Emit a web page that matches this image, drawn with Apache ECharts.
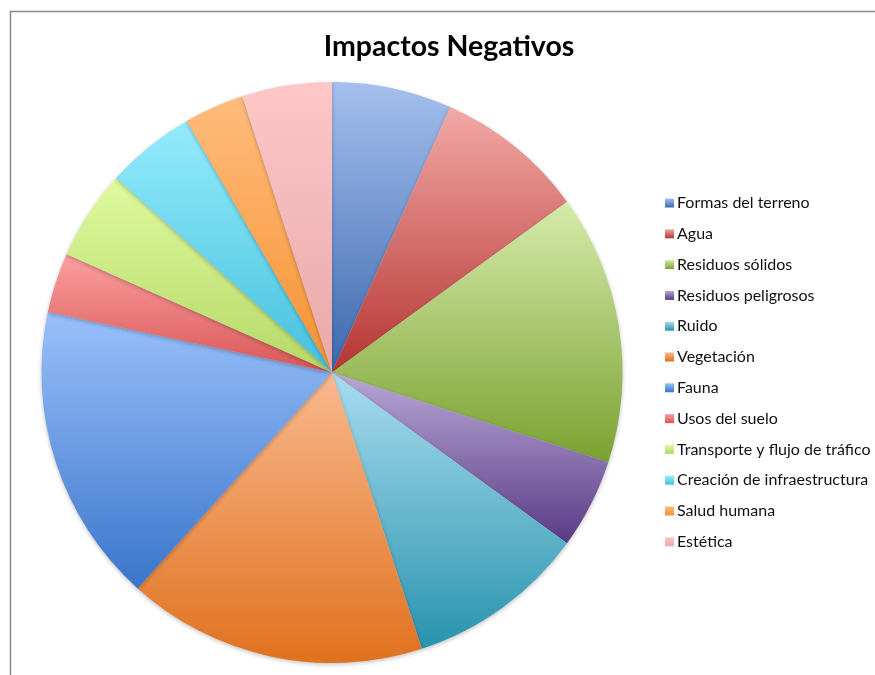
<!DOCTYPE html>
<html>
<head>
<meta charset="utf-8">
<script src="https://cdn.jsdelivr.net/npm/echarts@6/dist/echarts.min.js"></script>
<style>
  html, body { margin: 0; padding: 0; background: #fff; }
  #chart { width: 875px; height: 675px; }
</style>
</head>
<body>
<div id="chart"></div>
<script>
const categories = [
  'Formas del terreno', 'Agua', 'Residuos sólidos', 'Residuos peligrosos',
  'Ruido', 'Vegetación', 'Fauna', 'Usos del suelo',
  'Transporte y flujo de tráfico', 'Creación de infraestructura', 'Salud humana', 'Estética'
]
const values = [4, 5, 9, 3, 6, 10, 10, 2, 3, 3, 2, 3]
// gradient colours of each slice, light at top to dark at bottom
const topColors = ['#A5BFEE', '#F2A8A6', '#D5EBAA', '#B8A7D6', '#A9DCEF', '#F9B98F',
  '#99C0FA', '#FB9F9F', '#DFFA9F', '#94EBFC', '#FFBC7C', '#FFC7C8']
const bottomColors = ['#3C68AD', '#B53633', '#7AA130', '#5A3B86', '#2893AE', '#E0711D',
  '#3A75CB', '#D95656', '#B5D866', '#45C0DC', '#F79232', '#E7A8A9']

const myChart = echarts.init(document.getElementById('chart'))

const pieData = categories.map((name, i) => ({
  name: name,
  value: values[i],
  itemStyle: {
    color: new echarts.graphic.LinearGradient(0, 0, 0, 1, [
      { offset: 0, color: topColors[i] },
      { offset: 1, color: bottomColors[i] }
    ])
  }
}))

const option = {
  animation: false,
  backgroundColor: '#fff',
  title: {
    text: 'Impactos Negativos',
    left: 444,
    top: 27,
    textAlign: 'center',
    textStyle: {
      fontFamily: 'Lato',
      fontWeight: 'bold',
      fontSize: 28.5,
      color: '#000'
    }
  },
  legend: {
    orient: 'vertical',
    left: 660,
    top: 190,
    icon: 'rect',
    itemWidth: 9,
    itemHeight: 9,
    itemGap: 14.8,
    textStyle: {
      fontFamily: 'Lato',
      fontSize: 16,
      lineHeight: 16,
      color: '#111',
      padding: [0, 0, 0, -2]
    },
    data: categories
  },
  graphic: [
    {
      type: 'rect',
      shape: { x: 10.5, y: 11.5, width: 900, height: 700 },
      style: { fill: 'none', stroke: '#8a8a8a', lineWidth: 1.5 },
      silent: true
    }
  ],
  series: [
    {
      type: 'pie',
      center: [332, 372.5],
      radius: 290.5,
      startAngle: 90,
      clockwise: true,
      label: { show: false },
      labelLine: { show: false },
      emphasis: { disabled: true },
      itemStyle: {
        borderWidth: 0,
        shadowBlur: 4,
        shadowColor: 'rgba(0,0,0,0.25)',
        shadowOffsetY: 1.5
      },
      data: pieData
    }
  ]
}
myChart.setOption(option)
</script>
</body>
</html>
